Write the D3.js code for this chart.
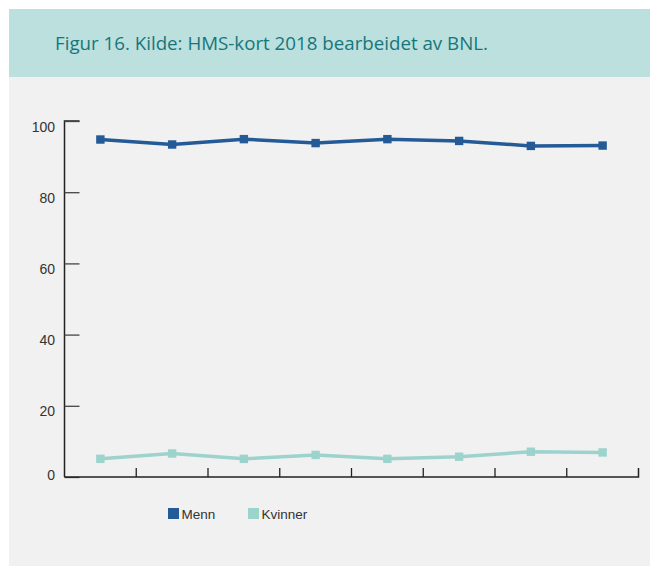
<!DOCTYPE html>
<html><head><meta charset="utf-8">
<script src="https://cdn.jsdelivr.net/npm/d3@7"></script>
<style>html,body{margin:0;padding:0;background:#fff;}svg{display:block;}</style>
</head><body>
<svg id="c" width="650" height="566"></svg>
<script>
const title = "Figur 16. Kilde: HMS-kort 2018 bearbeidet av BNL.";
const categories = ["1","2","3","4","5","6","7","8"];
const menn = [94.8, 93.4, 94.9, 93.8, 94.9, 94.4, 93.0, 93.1];
const kvinner = [5.1, 6.6, 5.1, 6.2, 5.1, 5.7, 7.1, 6.9];
const yTicks = [0, 20, 40, 60, 80, 100];
const seriesNames = ["Menn", "Kvinner"];
const seriesColors = ["#245a96", "#9dd3cd"];

const svg = d3.select("#c");
svg.append("rect").attr("x",9).attr("y",9).attr("width",641).attr("height",557).attr("fill","#f1f1f1");
svg.append("rect").attr("x",9).attr("y",9).attr("width",641).attr("height",68).attr("fill","#bbe0dd");
const t = svg.append("text").attr("x",55).attr("y",49.5).text(title)
  .attr("font-family","'Open Sans', sans-serif").attr("font-size",17).attr("fill","#17767c");
const tl = t.node().getComputedTextLength();
t.attr("font-size", 17 * 433 / tl);

const x = d3.scaleBand().domain(categories).range([64.5, 638.5]);
const y = d3.scaleLinear().domain([0,100]).range([477, 121]);

const gY = svg.append("g").attr("transform","translate(64.5,0)")
  .call(d3.axisLeft(y).tickValues(yTicks).tickSize(-15).tickPadding(9.5).tickFormat(d3.format("d")));
gY.select(".domain").attr("stroke","#222").attr("stroke-width",1.5).attr("d","M15,121H0V477");
gY.selectAll(".tick line").attr("stroke","#444").attr("stroke-width",1.3);
gY.selectAll(".tick text").attr("font-family","'Liberation Sans', Arial, sans-serif").attr("font-size",14).attr("fill","#333")
  .attr("dy", d => d === 0 ? "0.15em" : "0.72em");

const gX = svg.append("g").attr("transform","translate(0,477)")
  .call(d3.axisBottom(x).tickValues(categories.slice(1)).tickSize(-9).tickFormat(""));
gX.selectAll(".tick").attr("transform", d => `translate(${x(d)},0)`);
gX.select(".domain").attr("stroke","#222").attr("stroke-width",1.5).attr("d","M64.5,0H638.5V-9");
gX.selectAll(".tick line").attr("stroke","#222").attr("stroke-width",1.3);

const data = [menn, kvinner];
const line = d3.line().x((d,i)=>x(categories[i])+x.bandwidth()/2).y(d=>y(d));
data.forEach((s,k)=>{
  svg.append("path").attr("d",line(s)).attr("fill","none").attr("stroke",seriesColors[k]).attr("stroke-width",3.5);
  svg.selectAll(null).data(s).enter().append("rect")
    .attr("x",(d,i)=>x(categories[i])+x.bandwidth()/2-4.2).attr("y",d=>y(d)-4.2)
    .attr("width",8.4).attr("height",8.4).attr("fill",seriesColors[k]);
});

const legX = [168, 248];
seriesNames.forEach((n,k)=>{
  svg.append("rect").attr("x",legX[k]).attr("y",508).attr("width",11).attr("height",11).attr("fill",seriesColors[k]);
  svg.append("text").attr("x",legX[k]+13.5).attr("y",519).text(n)
    .attr("font-family","'Liberation Sans', Arial, sans-serif").attr("font-size",13.5).attr("fill","#333");
});
</script>
</body></html>
